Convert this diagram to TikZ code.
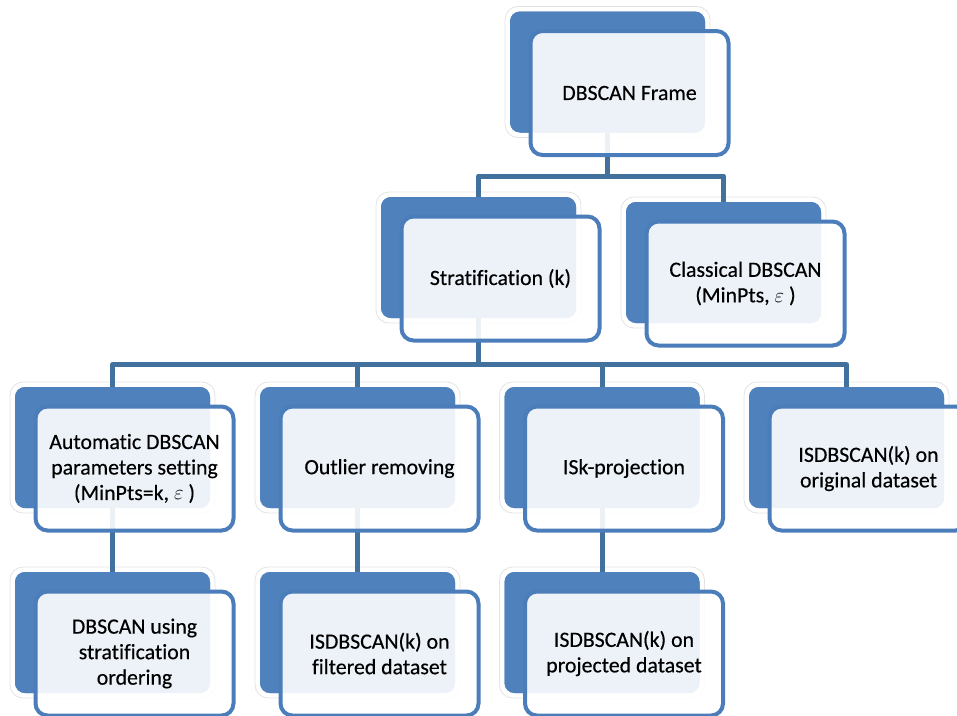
\documentclass[tikz,border=0pt]{standalone}
\usepackage{fontspec}
\setmainfont[Ligatures=NoCommon,FakeBold=0.4]{Carlito}
\definecolor{accblue}{HTML}{4F81BD}
\definecolor{linkblue}{HTML}{41719C}
\definecolor{frontline}{HTML}{4A7DBA}
\tikzset{
  backbox/.style={rectangle, rounded corners=10pt, fill=accblue, minimum width=195pt, minimum height=121pt, inner sep=0pt},
  halobox/.style={rectangle, rounded corners=13pt, fill=white, draw=gray!22, line width=0.8pt, minimum width=205pt, minimum height=131pt, inner sep=0pt},
  frontbox/.style={rectangle, rounded corners=12pt, draw=frontline, line width=4pt, fill=white, fill opacity=0.9, text opacity=1, minimum width=198pt, minimum height=124pt, align=center, inner sep=0pt, font=\fontsize{21.8}{25.5}\selectfont},
  link/.style={draw=linkblue, line width=5pt, line join=round}
}
\begin{document}
\begin{tikzpicture}[x=1pt,y=-1pt]
\useasboundingbox (0,0) rectangle (957,715);
\clip (0,0) rectangle (957,715);
% white halos behind the back boxes
\foreach \n/\x/\y in {frame/607.5/72, strat/478.5/257.5, class/723.5/262.5,
  auto/112.5/447.5, outl/357.5/447.5, isk/602/447.5, orig/846.5/447.5,
  using/112.5/632.5, filt/357.5/632.5, proj/602/632.5}{
  \node[halobox] (h\n) at (\x,\y) {};
}
% back boxes
\node[backbox] (bframe) at (607.5,72) {};
\node[backbox] (bstrat) at (478.5,257.5) {};
\node[backbox] (bclass) at (723.5,262.5) {};
\node[backbox] (bauto) at (112.5,447.5) {};
\node[backbox] (boutl) at (357.5,447.5) {};
\node[backbox] (bisk) at (602,447.5) {};
\node[backbox] (borig) at (846.5,447.5) {};
\node[backbox] (busing) at (112.5,632.5) {};
\node[backbox] (bfilt) at (357.5,632.5) {};
\node[backbox] (bproj) at (602,632.5) {};
% connectors
\coordinate (j1) at (607.5,176);
\coordinate (j2) at (478.5,364.5);
\draw[link] (bframe.south) -- (j1) -| (bstrat.north);
\draw[link] (j1) -| (bclass.north);
\draw[link] (bstrat.south) -- (j2) -| (bauto.north);
\draw[link] (j2) -| (boutl.north);
\draw[link] (j2) -| (bisk.north);
\draw[link] (j2) -| (borig.north);
\draw[link] (bauto.south) -- (busing.north);
\draw[link] (boutl.south) -- (bfilt.north);
\draw[link] (bisk.south) -- (bproj.north);
% redraw back boxes over connector ends
\foreach \x/\y in {607.5/72, 478.5/257.5, 723.5/262.5,
  112.5/447.5, 357.5/447.5, 602/447.5, 846.5/447.5,
  112.5/632.5, 357.5/632.5, 602/632.5}{
  \fill[accblue, rounded corners=10pt] (\x-97.5,\y-60.5) rectangle (\x+97.5,\y+60.5);
}
% front boxes
\node[frontbox] (frame) at (629.5,93) {DBSCAN Frame};
\node[frontbox] (strat) at (500.5,278.5) {Stratification (k)};
\node[frontbox] (class) at (745.5,283.5) {Classical DBSCAN\\(MinPts, $\varepsilon$\ )};
\node[frontbox] (auto) at (134.5,468.5) {Automatic DBSCAN\\parameters setting\\(MinPts=k, $\varepsilon$\ )};
\node[frontbox] (outl) at (379.5,468.5) {Outlier removing};
\node[frontbox] (isk) at (624,468.5) {ISk-projection};
\node[frontbox] (orig) at (868.5,468.5) {ISDBSCAN(k) on\\original dataset};
\node[frontbox] (using) at (134.5,653.5) {DBSCAN using\\stratification\\ordering};
\node[frontbox] (filt) at (379.5,653.5) {ISDBSCAN(k) on\\filtered dataset};
\node[frontbox] (proj) at (624,653.5) {ISDBSCAN(k) on\\projected dataset};
\end{tikzpicture}
\end{document}
